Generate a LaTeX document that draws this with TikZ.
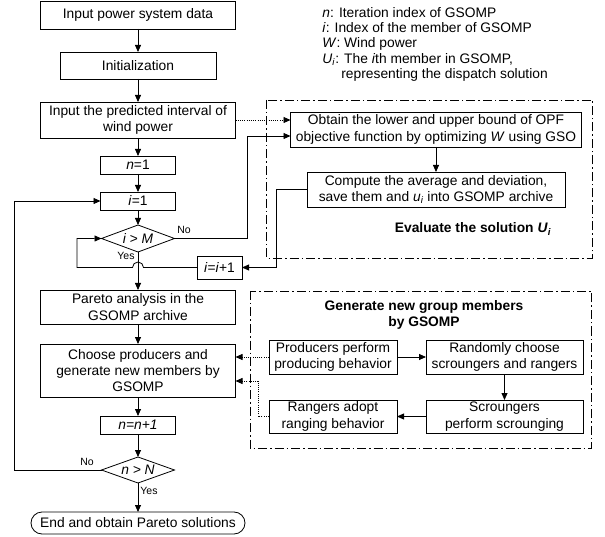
\documentclass[tikz,border=0pt]{standalone}
\usepackage{fontspec}
\setmainfont{Liberation Sans}
\usetikzlibrary{positioning,shapes.geometric,arrows.meta}

\begin{document}
\begin{tikzpicture}[%
  x=1pt,
  y=-1pt,
  >={Triangle[length=7pt,width=6pt]},
  line width=0.8pt,
  font=\fontsize{13.8}{16.3}\selectfont,
  node distance=20pt,
  proc/.style={
    draw,
    inner sep=0pt,
    outer sep=0pt,
    align=center},
  cond/.style={
    draw,
    diamond,
    aspect=2.7,
    inner sep=0pt,
    outer sep=0pt,
    minimum width=73pt},
  flow/.style={
    ->},
  hint/.style={
    ->,
    dash pattern=on 1pt off 1.2pt},
  grp/.style={
    dash pattern=on 9pt off 3pt on 1.5pt off 3pt},
  ttl/.style={
    inner sep=0pt,
    align=center,
    font=\fontsize{13.8}{16}\selectfont\bfseries},
  lbl/.style={
    inner sep=0pt,
    font=\fontsize{10.5}{12}\selectfont}
  ]
  \useasboundingbox (0,0) rectangle (605,537);
  %% Nodes
  \node[proc, minimum width=195pt, minimum height=28pt] (data) at (138,15) {Input power system data};
  \node[proc, minimum width=156pt, minimum height=27pt, below=23pt of data] (init) {Initialization};
  \node[proc, minimum width=195pt, minimum height=36pt, below=23pt of init] (interval) {Input the predicted interval of\\wind power};
  \node[proc, minimum width=75pt, minimum height=18pt, below=18pt of interval] (n1) {\textit{n}=1};
  \node[proc, minimum width=75pt, minimum height=18pt, below=18pt of n1] (i1) {\textit{i}=1};
  \node[cond, minimum height=27pt, below=15pt of i1] (dM) {\textit{i > M}};
  \node[proc, minimum width=195pt, minimum height=34pt, below=38pt of dM] (pareto) {Pareto analysis in the\\GSOMP archive};
  \node[proc, minimum width=195pt, minimum height=53pt, below=20pt of pareto] (choose) {Choose producers and\\generate new members by\\GSOMP};
  \node[proc, minimum width=75pt, minimum height=18pt, below=19pt of choose] (nn) {\textit{n=n+1}};
  \node[cond, minimum height=26pt, below=23pt of nn] (dN) {\textit{n > N}};
  \node[proc, minimum width=214pt, minimum height=22pt, rounded corners=11pt, below=29pt of dN] (end) {End and obtain Pareto solutions};
  \node[proc, minimum width=45pt, minimum height=23pt] (iinc) at (219.5,267.5) {\textit{i}=\textit{i}+1};

  \node[anchor=north west, align=left, inner sep=0pt, font=\fontsize{13.8}{15.3}\selectfont] (legend) at (322,7) {\textit{n}: Iteration index of GSOMP\\\textit{i}: Index of the member of GSOMP\\\textit{W}: Wind power\\\textit{U}\textsubscript{\textit{i}}: The \textit{i}th member in GSOMP,\\\hspace*{19pt}representing the dispatch solution};

  \draw[grp] (266,100) rectangle (592,258);
  \node[proc, minimum width=291pt, minimum height=35pt] (obtain) at (436,129.5) {Obtain the lower and upper bound of OPF\\objective function by optimizing \textit{W} using GSO};
  \node[proc, minimum width=258pt, minimum height=35pt] (compute) at (436,189.5) {Compute the average and deviation,\\save them and \textit{u}\textsubscript{\textit{i}} into GSOMP archive};
  \node[ttl] (evtitle) at (473,229) {Evaluate the solution \textit{U}\textsubscript{\textit{i}}};

  \draw[grp] (250,291) rectangle (591,448);
  \node[ttl] (gentitle) at (424,315) {Generate new group members\\by GSOMP};
  \node[proc, minimum width=128pt, minimum height=34pt] (prod) at (333,357) {Producers perform\\producing behavior};
  \node[proc, minimum width=157pt, minimum height=34pt, right=29pt of prod] (rand) {Randomly choose\\scroungers and rangers};
  \node[proc, minimum width=157pt, minimum height=33pt, below=26pt of rand] (scro) {Scroungers\\perform scrounging};
  \node[proc, minimum width=128pt, minimum height=33pt, left=29pt of scro] (rang) {Rangers adopt\\ranging behavior};

  \node[lbl] (noM) at (184,230) {No};
  \node[lbl] (yesM) at (126,256) {Yes};
  \node[lbl] (noN) at (87,462) {No};
  \node[lbl] (yesN) at (149,491) {Yes};
  \coordinate (hop) at (dM.south |- iinc.west);
  %% Edges
  \draw[flow] (data) -- (init);
  \draw[flow] (init) -- (interval);
  \draw[flow] (interval) -- (n1);
  \draw[flow] (n1) -- (i1);
  \draw[flow] (i1) -- (dM);
  \draw[flow] (dM) -- (pareto);
  \draw[flow] (pareto) -- (choose);
  \draw[flow] (choose) -- (nn);
  \draw[flow] (nn) -- (dN);
  \draw[flow] (dN) -- (end);
  \draw[flow] (dN.west) -- ++(-87,0) |- (i1.west);
  \draw[flow] (dM.east) -- ++(73,0) |- ([yshift=-6.5pt]obtain.west);
  \draw[hint] (interval.east) -- (obtain.west |- interval.east);
  \draw[flow] (obtain) -- (compute);
  \draw[flow] (compute.west) -- ++(-31,0) |- (iinc.east);
  \draw[flow] (iinc.west) -- ([xshift=5.5pt]hop) arc[start angle=0, end angle=180, radius=5.5pt] -- ++(-55.5,0) |- (dM.west);
  \draw[flow] (prod) -- (rand);
  \draw[flow] (rand) -- (scro);
  \draw[flow] (scro) -- (rang);
  \draw[hint] (prod.west) -- (choose.east |- prod.west);
  \draw[hint] (rang.west) -- ++(-11,0) |- ([yshift=-10.5pt]choose.east);
\end{tikzpicture}
\end{document}
